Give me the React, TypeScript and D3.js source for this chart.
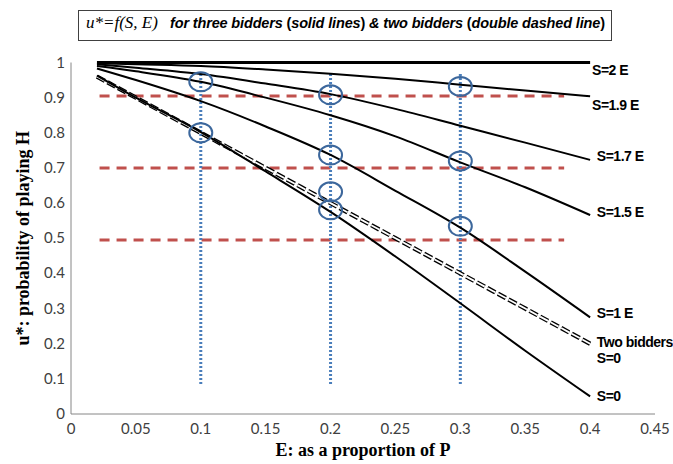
import * as d3 from "d3";

// E values (proportion of P) where the curves were read
const E_VALUES = [0.02, 0.05, 0.1, 0.15, 0.2, 0.25, 0.3, 0.35, 0.4];

// u* for three bidders, one array per S
const U_S2 = [1, 1, 1, 1, 1, 1, 1, 1, 1];
const U_S19 = [0.998, 0.995, 0.99, 0.98, 0.968, 0.954, 0.937, 0.92, 0.904];
const U_S17 = [0.995, 0.985, 0.967, 0.94, 0.91, 0.868, 0.82, 0.772, 0.723];
const U_S15 = [0.99, 0.975, 0.945, 0.9, 0.85, 0.79, 0.716, 0.645, 0.566];
const U_S1 = [0.983, 0.95, 0.89, 0.818, 0.737, 0.635, 0.53, 0.405, 0.275];
const U_S0 = [0.963, 0.9, 0.802, 0.69, 0.575, 0.448, 0.315, 0.18, 0.05];

// two bidders, S=0 (double dashed)
const U_TWO = [0.96, 0.9, 0.8, 0.7, 0.6, 0.5, 0.4, 0.3, 0.2];

// red reference levels and blue marker columns
const RED_LEVELS = [0.905, 0.7, 0.495];
const RED_RANGE = [0.022, 0.38];
const BLUE_E = [0.1, 0.2, 0.3];
const BLUE_RANGE = [0.085, 0.97];

// circled points
const CIRCLE_E = [0.1, 0.1, 0.2, 0.2, 0.2, 0.2, 0.3, 0.3, 0.3];
const CIRCLE_U = [0.945, 0.8, 0.908, 0.737, 0.632, 0.581, 0.932, 0.72, 0.534];

// labels at the right end of the curves
const LABELS = ["S=2 E", "S=1.9 E", "S=1.7 E", "S=1.5 E", "S=1 E", "Two bidders", "S=0", "S=0"];
const LABEL_E = [0.4015, 0.4015, 0.4052, 0.4052, 0.4052, 0.4052, 0.4052, 0.4052];
const LABEL_U = [0.964, 0.865, 0.72, 0.56, 0.273, 0.19, 0.145, 0.037];

const X_TICKS = [0, 0.05, 0.1, 0.15, 0.2, 0.25, 0.3, 0.35, 0.4, 0.45];
const Y_TICKS = [0, 0.1, 0.2, 0.3, 0.4, 0.5, 0.6, 0.7, 0.8, 0.9, 1];

const W = 673, H = 464;
const M = { left: 71, right: 18, top: 62.5, bottom: 50 };

export default function App() {
  const x = d3.scaleLinear().domain([0, 0.45]).range([M.left, W - M.right]);
  const y = d3.scaleLinear().domain([0, 1]).range([H - M.bottom, M.top]);

  const line = d3.line<number>()
    .x((_, i) => x(E_VALUES[i]))
    .y(d => y(d))
    .curve(d3.curveMonotoneX);

  const solid = [
    { u: U_S1, w: 2 },
    { u: U_S15, w: 2 },
    { u: U_S17, w: 2 },
    { u: U_S19, w: 2 },
    { u: U_S2, w: 3 },
  ];

  const fmt = (v: number) => String(+v.toFixed(2));
  const tickFont = "Lato, 'Open Sans', sans-serif";
  const serif = "'Liberation Serif', 'DejaVu Serif', serif";
  const sans = "'Liberation Sans', Arial, sans-serif";

  return (
    <svg width={W} height={H} style={{ position: "absolute", left: 0, top: 0, background: "#fff" }}>
      {/* title box */}
      <rect x={78.5} y={10.5} width={533} height={30} fill="#fff" stroke="#404040" strokeWidth={1} />
      <text x={86} y={28} fontFamily={serif} fontStyle="italic" fontSize={17} fill="#000">u*=f(S, E)</text>
      <text x={170} y={28} fontFamily={sans} fontWeight="bold" fontSize={14.5} letterSpacing={-0.15} fill="#000">
        <tspan fontStyle="italic">for three bidders </tspan>
        <tspan>(</tspan>
        <tspan fontStyle="italic">solid lines</tspan>
        <tspan>) </tspan>
        <tspan fontStyle="italic">&amp; two bidders </tspan>
        <tspan>(</tspan>
        <tspan fontStyle="italic">double dashed line</tspan>
        <tspan>)</tspan>
      </text>

      {/* axes */}
      <line x1={x(0)} x2={x(0.45)} y1={y(0)} y2={y(0)} stroke="#868686" strokeWidth={1} />
      <line x1={x(0)} x2={x(0)} y1={y(0)} y2={y(1)} stroke="#868686" strokeWidth={1} />
      {Y_TICKS.map(t => (
        <text key={"y" + t} x={x(0) - 6} y={y(t) + 5} textAnchor="end" fontFamily={tickFont}
          fontSize={15} fill="#404040">{fmt(t)}</text>
      ))}
      {X_TICKS.map(t => (
        <text key={"x" + t} x={x(t)} y={y(0) + 20} textAnchor="middle" fontFamily={tickFont}
          fontSize={15} fill="#404040">{fmt(t)}</text>
      ))}
      <text x={(x(0) + x(0.45)) / 2} y={H - 8} textAnchor="middle" fontFamily={serif}
        fontWeight="bold" fontSize={18} fill="#000">E: as a proportion of P</text>
      <text transform={`translate(29,${y(0.5)}) rotate(-90)`} textAnchor="middle" fontFamily={serif}
        fontWeight="bold" fontSize={18} fill="#000">{"u*: probability of playing  H"}</text>

      {/* red dashed levels */}
      {RED_LEVELS.map(v => (
        <line key={"r" + v} x1={x(RED_RANGE[0])} x2={x(RED_RANGE[1])} y1={y(v)} y2={y(v)}
          stroke="#c0504d" strokeWidth={3} strokeDasharray="10,7" />
      ))}

      {/* blue dotted columns */}
      {BLUE_E.map(v => (
        <line key={"b" + v} x1={x(v)} x2={x(v)} y1={y(BLUE_RANGE[0])} y2={y(BLUE_RANGE[1])}
          stroke="#4a7ebb" strokeWidth={3} strokeDasharray="2,2" />
      ))}

      {/* three-bidder curves */}
      {solid.map((s, i) => (
        <path key={"s" + i} d={line(s.u) || ""} fill="none" stroke="#000" strokeWidth={s.w} />
      ))}

      {/* two bidders, double dashed */}
      <path d={line(U_TWO) || ""} fill="none" stroke="#000" strokeWidth={4.4} strokeDasharray="9,3" />
      <path d={line(U_TWO) || ""} fill="none" stroke="#fff" strokeWidth={1.8} strokeDasharray="9,3" />

      <path d={line(U_S0) || ""} fill="none" stroke="#000" strokeWidth={2} />

      {/* circles */}
      {CIRCLE_E.map((e, i) => (
        <ellipse key={"c" + i} cx={x(e)} cy={y(CIRCLE_U[i])} rx={11.5} ry={9.5}
          fill="none" stroke="#3c679c" strokeWidth={2} />
      ))}

      {/* labels */}
      {LABELS.map((l, i) => (
        <text key={"l" + i} x={x(LABEL_E[i])} y={y(LABEL_U[i])} fontFamily={sans} fontWeight="bold"
          fontSize={14} letterSpacing={-0.5} fill="#000">{l}</text>
      ))}
    </svg>
  );
}
